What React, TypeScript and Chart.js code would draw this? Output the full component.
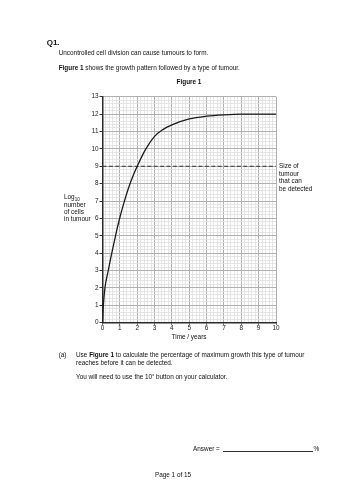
import React, { useEffect, useRef } from "react";
import { Chart, registerables } from "chart.js";

Chart.register(...registerables);

// ---- data ----
const timeYears = [0, 0.05, 0.14, 0.3, 0.5, 0.75, 1.0, 1.25, 1.5, 1.75, 2.0, 2.5, 3.0, 3.5, 4.0, 5.0, 6.0, 7.0, 8.0, 9.0, 10.0];
const logCells = [0, 1.0, 2.0, 2.85, 3.85, 5.0, 6.05, 6.95, 7.75, 8.42, 9.0, 10.0, 10.72, 11.12, 11.38, 11.72, 11.88, 11.96, 12, 12, 12];
const detectX = [0, 10];
const detectY = [9, 9];
const xMin = 0, xMax = 10, yMin = 0, yMax = 13;

const FONT = '"Liberation Sans", Arial, sans-serif';

function isMajor(v: number) {
  return Math.round(v * 10) % 10 === 0;
}
function gridColor(v: number) {
  return isMajor(v) ? "#b0b0b0" : "#e0e0e0";
}
function gridWidth(v: number) {
  return isMajor(v) ? 1 : 0.8;
}
function intLabel(v: number | string) {
  const n = Number(v);
  return isMajor(n) ? String(Math.round(n)) : "";
}

function TumourChart() {
  const ref = useRef<HTMLCanvasElement | null>(null);
  useEffect(() => {
    if (!ref.current) return;
    const chart = new Chart(ref.current, {
      type: "line",
      data: {
        datasets: [
          {
            data: timeYears.map((x, i) => ({ x, y: logCells[i] })),
            borderColor: "#1c1c1c",
            borderWidth: 1.3,
            pointRadius: 0,
            cubicInterpolationMode: "monotone",
            fill: false,
          },
          {
            data: detectX.map((x, i) => ({ x, y: detectY[i] })),
            borderColor: "#333333",
            borderWidth: 1.1,
            borderDash: [4, 2.4],
            pointRadius: 0,
            fill: false,
          },
        ],
      },
      options: {
        responsive: false,
        animation: false,
        events: [],
        layout: { padding: { left: 72.5, right: 77, top: 96.7, bottom: 157.3 } },
        plugins: { legend: { display: false }, tooltip: { enabled: false } },
        scales: {
          x: {
            type: "linear",
            min: xMin,
            max: xMax,
            afterFit: (s: any) => { s.height = 20; },
            ticks: {
              stepSize: 0.2,
              autoSkip: false,
              maxRotation: 0,
              minRotation: 0,
              padding: 0,
              color: "#222",
              font: { family: FONT, size: 6.4 },
              callback: (v: any) => intLabel(v),
            },
            grid: {
              color: (c: any) => gridColor(c.tick.value),
              lineWidth: (c: any) => gridWidth(c.tick.value),
              tickLength: 2,
              tickColor: (c: any) => (isMajor(c.tick.value) ? "#333" : "rgba(0,0,0,0)"),
            },
            border: { color: "#2a2a2a", width: 1.5 },
          },
          y: {
            type: "linear",
            min: yMin,
            max: yMax,
            afterFit: (s: any) => { s.width = 30; },
            ticks: {
              stepSize: 0.2,
              autoSkip: false,
              padding: 1,
              color: "#222",
              font: { family: FONT, size: 6.4 },
              callback: (v: any) => intLabel(v),
            },
            grid: {
              color: (c: any) => gridColor(c.tick.value),
              lineWidth: (c: any) => gridWidth(c.tick.value),
              tickLength: 3,
              tickColor: (c: any) => (isMajor(c.tick.value) ? "#333" : "rgba(0,0,0,0)"),
            },
            border: { color: "#2a2a2a", width: 1.5 },
          },
        },
      },
    } as any);
    return () => chart.destroy();
  }, []);
  return (
    <canvas
      ref={ref}
      width={353}
      height={500}
      style={{ position: "absolute", left: 0, top: 0, width: 353, height: 500 }}
    />
  );
}

const txt: React.CSSProperties = {
  position: "absolute",
  fontFamily: FONT,
  fontSize: 6.4,
  lineHeight: "8px",
  color: "#111",
  whiteSpace: "nowrap",
};

export default function App() {
  return (
    <div style={{ position: "fixed", left: 0, top: 0, width: 353, height: 500, background: "#fff", overflow: "hidden" }}>
      <TumourChart />
      <div style={{ ...txt, left: 46.7, top: 38, fontSize: 8, lineHeight: "10px", fontWeight: "bold" }}>Q1.</div>
      <div style={{ ...txt, left: 58.7, top: 49.3 }}>Uncontrolled cell division can cause tumours to form.</div>
      <div style={{ ...txt, left: 58.7, top: 63.7 }}>
        <b>Figure 1</b> shows the growth pattern followed by a type of tumour.
      </div>
      <div style={{ ...txt, left: 189, top: 78.3, transform: "translateX(-50%)", fontWeight: "bold" }}>Figure 1</div>

      <div style={{ ...txt, left: 64, top: 193.1, lineHeight: "7.4px" }}>
        Log<sub style={{ fontSize: 4.5, lineHeight: 0 }}>10</sub>
        <br />number
        <br />of cells
        <br />in tumour
      </div>
      <div style={{ ...txt, left: 279, top: 162.3, lineHeight: "7.4px" }}>
        Size of
        <br />tumour
        <br />that can
        <br />be detected
      </div>
      <div style={{ ...txt, left: 189, top: 333, transform: "translateX(-50%)" }}>Time / years</div>

      <div style={{ ...txt, left: 58.7, top: 350.7 }}>(a)</div>
      <div style={{ ...txt, left: 76, top: 350.7 }}>
        Use <b>Figure 1</b> to calculate the percentage of maximum growth this type of tumour
        <br />reaches before it can be detected.
      </div>
      <div style={{ ...txt, left: 76, top: 372.7 }}>
        You will need to use the 10<sup style={{ fontSize: 4, lineHeight: 0 }}>x</sup> button on your calculator.
      </div>

      <div style={{ ...txt, left: 193, top: 444.7 }}>Answer =</div>
      <div style={{ position: "absolute", left: 222.7, top: 450.5, width: 90.3, height: 0, borderTop: "0.8px solid #333" }} />
      <div style={{ ...txt, left: 313.5, top: 444.7 }}>%</div>
      <div style={{ ...txt, left: 173, top: 471, transform: "translateX(-50%)" }}>Page 1 of 15</div>
    </div>
  );
}
